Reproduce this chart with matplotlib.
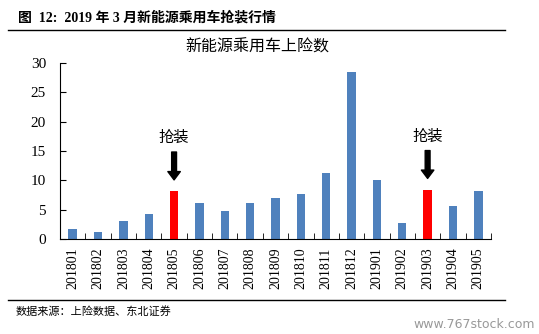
import matplotlib

matplotlib.use("Agg")

import matplotlib.pyplot as plt
import numpy as np

plt.rcParams['font.family'] = ['Liberation Serif', 'Noto Sans CJK SC', 'DejaVu Sans']

# Monthly NEV passenger car insurance registrations (10k units)
months = ['201801', '201802', '201803', '201804', '201805', '201806',
          '201807', '201808', '201809', '201810', '201811', '201812',
          '201901', '201902', '201903', '201904', '201905']
values = [1.65, 1.2, 3.07, 4.26, 8.1, 6.1, 4.77, 6.07, 6.98, 7.6,
          11.3, 28.5, 10.05, 2.67, 8.35, 5.62, 8.1]
rush_months = ['201805', '201903']

blue = '#4F81BD'
red = '#FF0000'

fig = plt.figure(figsize=(5.39, 3.34), dpi=100)
ax = fig.add_axes([60 / 539, 1 - 239 / 334, 431 / 539, 176 / 334])

x = np.arange(len(months))
colors = [red if m in rush_months else blue for m in months]
ax.bar(x, values, width=0.33, color=colors)

ax.set_xlim(-0.5, len(months) - 0.5)
ax.set_ylim(0, 30)
ax.set_yticks(range(0, 31, 5))
ax.tick_params(axis='y', direction='in', length=4, labelsize=11, pad=10)
ax.set_xticks(x)
ax.set_xticklabels(months, rotation=90, fontsize=10)
ax.tick_params(axis='x', length=0, pad=6)
ax.set_xticks(np.arange(-0.5, len(months)), minor=True)
ax.tick_params(axis='x', which='minor', direction='in', length=4)
for s in ['top', 'right']:
    ax.spines[s].set_visible(False)

# "rush installation" annotations
for m in rush_months:
    i = months.index(m)
    ax.annotate('', xy=(i, values[i] + 1.5), xytext=(i, values[i] + 7.2),
                arrowprops=dict(arrowstyle='simple,head_width=0.9,head_length=0.6,tail_width=0.35',
                                color='black'))
    ax.text(i, values[i] + 9.2, '抢装', ha='center', va='center', fontsize=11,
            family=['Noto Sans CJK SC'])

ax.set_title('新能源乘用车上险数', fontsize=11.5, family=['Noto Sans CJK SC'],
             x=(257 - 60) / 431, pad=8)

# header, rules, source, watermark
fig.text(18 / 539, 1 - 18 / 334, '图  12:  2019 年 3 月新能源乘用车抢装行情', fontsize=10,
         fontweight='bold', va='center', family=['Liberation Serif', 'Noto Sans CJK SC'])
fig.add_artist(plt.Line2D([8 / 539, 505 / 539], [1 - 30 / 334, 1 - 30 / 334],
                          color='black', lw=1))
fig.add_artist(plt.Line2D([8 / 539, 505 / 539], [1 - 300 / 334, 1 - 300 / 334],
                          color='black', lw=1))
fig.text(16 / 539, 1 - 311 / 334, '数据来源：上险数据、东北证券', fontsize=8, va='center',
         family=['Noto Sans CJK SC'])
fig.text(535 / 539, 1 - 325 / 334, 'www.767stock.com', fontsize=9, color='#999999',
         ha='right', va='center', family=['DejaVu Sans'])

plt.savefig('out.png', dpi=100)
